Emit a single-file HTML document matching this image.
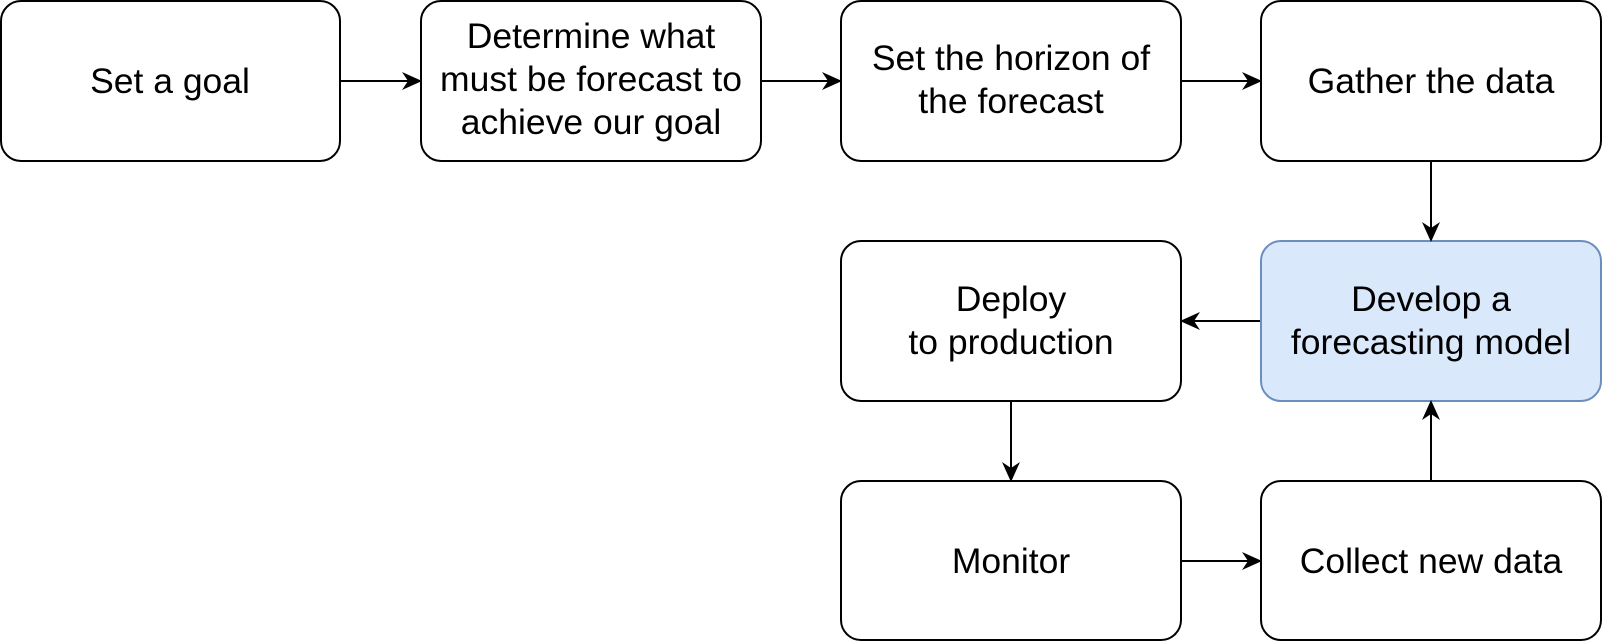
<!DOCTYPE html>
<html><head><meta charset="utf-8"><style>
html,body{margin:0;padding:0;background:#fff;}
svg{display:block;}
text{font-family:"Liberation Sans",Arial,sans-serif;font-size:35.5px;fill:#000;text-anchor:middle;}
</style></head><body>
<svg width="1604" height="642" viewBox="0 0 1604 642" xmlns="http://www.w3.org/2000/svg">
<defs>
<marker id="b" viewBox="0 0 10 10" markerWidth="20" markerHeight="20" refX="9" refY="5" orient="auto" markerUnits="userSpaceOnUse"><path d="M0,0.5 L10,5 L0,9.5 L3,5 Z" fill="#000"/></marker></defs>
<g fill="#fff" stroke="#000" stroke-width="2">
<rect x="1" y="1" width="339" height="160" rx="20"/>
<rect x="421" y="1" width="340" height="160" rx="20"/>
<rect x="841" y="1" width="340" height="160" rx="20"/>
<rect x="1261" y="1" width="340" height="160" rx="20"/>
<rect x="1261" y="241" width="340" height="160" rx="20" fill="#dae8fc" stroke="#6c8ebf"/>
<rect x="841" y="241" width="340" height="160" rx="20"/>
<rect x="841" y="481" width="340" height="159" rx="20"/>
<rect x="1261" y="481" width="340" height="159" rx="20"/>
</g>
<g stroke="#000" stroke-width="2" fill="none" marker-end="url(#b)">
<line x1="341" y1="81" x2="420" y2="81"/>
<line x1="762" y1="81" x2="840" y2="81"/>
<line x1="1182" y1="81" x2="1260" y2="81"/>
<line x1="1431" y1="162" x2="1431" y2="240"/>
<line x1="1260" y1="321" x2="1182" y2="321"/>
<line x1="1011" y1="402" x2="1011" y2="480"/>
<line x1="1182" y1="561" x2="1260" y2="561"/>
<line x1="1431" y1="480" x2="1431" y2="402"/>
</g>
<text x="170" y="93">Set a goal</text>
<text x="591" y="48">Determine what</text>
<text x="591" y="91">must be forecast to</text>
<text x="591" y="134">achieve our goal</text>
<text x="1011" y="70">Set the horizon of</text>
<text x="1011" y="113">the forecast</text>
<text x="1431" y="93">Gather the data</text>
<text x="1431" y="311">Develop a</text>
<text x="1431" y="354">forecasting model</text>
<text x="1011" y="311">Deploy</text>
<text x="1011" y="354">to production</text>
<text x="1011" y="573">Monitor</text>
<text x="1431" y="573">Collect new data</text>
</svg>
</body></html>
